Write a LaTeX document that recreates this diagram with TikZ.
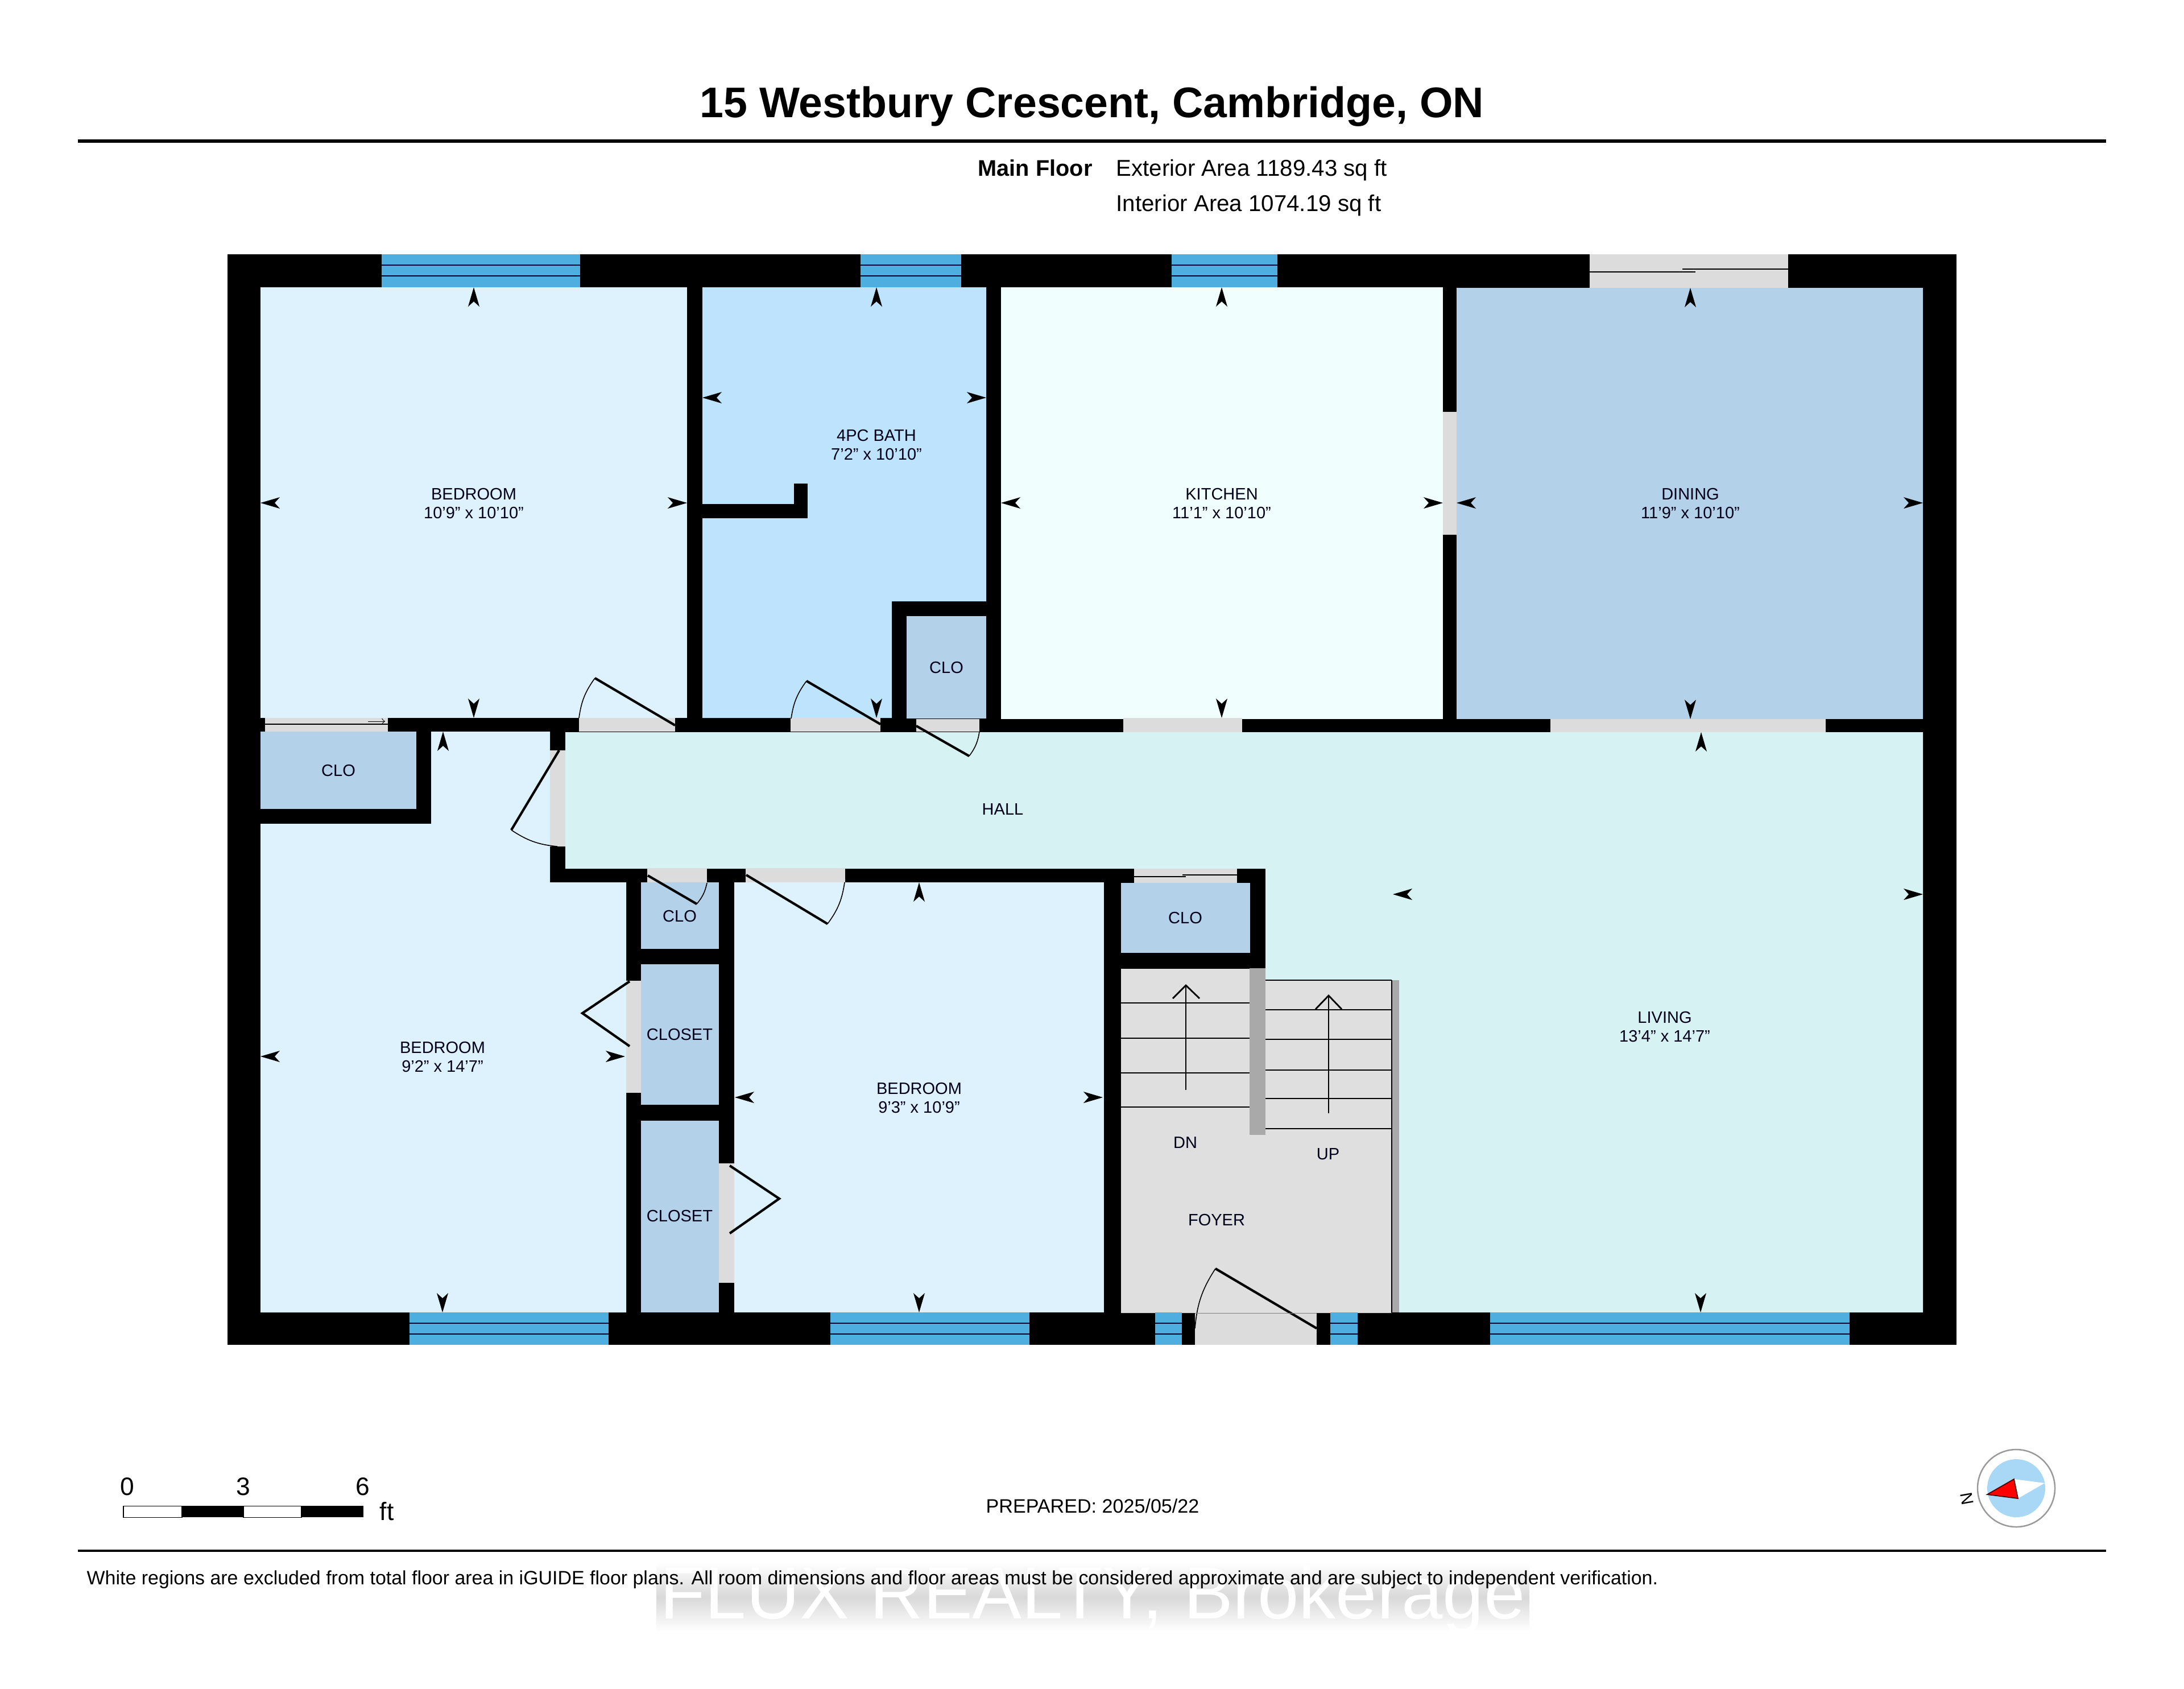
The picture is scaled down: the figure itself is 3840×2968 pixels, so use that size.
\documentclass[tikz,border=0pt]{standalone}
\usepackage{fontspec}
\setmainfont{Liberation Sans}
\definecolor{bedroomblue}{HTML}{DEF2FE}
\definecolor{bathblue}{HTML}{BEE3FC}
\definecolor{kitchenmint}{HTML}{F0FFFD}
\definecolor{closetblue}{HTML}{B3D1E8}
\definecolor{hallmint}{HTML}{D6F2F2}
\definecolor{foyergray}{HTML}{DFDFDF}
\definecolor{gapgray}{HTML}{DCDCDC}
\definecolor{railgray}{HTML}{A9A9A9}
\definecolor{glassblue}{HTML}{4FAEE0}
\definecolor{compassblue}{HTML}{A8D8F5}
\tikzset{
    roomlabel/.style={font=\fontsize{8.25}{9.2}\selectfont, align=center, inner sep=0pt, text=black!90!blue},
    wallgap/.style={fill=gapgray},
    glassline/.style={line width=0.6pt, black!80!blue},
    doorleaf/.style={line width=1.2pt},
    doorarc/.style={line width=0.45pt},
    stairline/.style={line width=0.8pt},
    sliderline/.style={line width=0.7pt},
    rulerline/.style={line width=1.5pt},
    dimtip/.pic={\fill (0,0) -- (10,34) -- (0,25) -- (-10,34) -- cycle;}
}
\begin{document}
\begin{tikzpicture}[x=0.01cm, y=-0.01cm]
    \useasboundingbox[fill=white] (0,0) rectangle (3840,2968);

    \node[font=\fontsize{21.4}{25}\bfseries\selectfont, inner sep=0pt] (title) at (1920,187) {15 Westbury Crescent, Cambridge, ON};
    \draw[rulerline] (137,248) -- (3703,248);
    \draw[rulerline, line width=1.3pt] (137,2726) -- (3703,2726);
    \node[font=\fontsize{11.3}{13}\bfseries\selectfont, anchor=base west, inner sep=0pt] (floorname) at (1719,309) {Main Floor};
    \node[font=\fontsize{11.45}{13}\selectfont, anchor=base west, inner sep=0pt] (extarea) at (1962,309) {Exterior Area 1189.43 sq ft};
    \node[font=\fontsize{11.45}{13}\selectfont, anchor=base west, inner sep=0pt] (intarea) at (1962,371) {Interior Area 1074.19 sq ft};

    \fill (400,447) rectangle (3440,2364);

    \foreach \xa/\ya/\xb/\yb in {458/505/1208/1262, 1291/1551/1941/2307}
        \fill[bedroomblue] (\xa,\ya) rectangle (\xb,\yb);
    \fill[bedroomblue] (758,1286) -- (967,1286) -- (967,1551) -- (1101,1551) -- (1101,2307) -- (458,2307) -- (458,1448) -- (758,1448) -- cycle;
    \fill[bathblue] (1235,505) -- (1734,505) -- (1734,1057) -- (1568,1057) -- (1568,1262) -- (1235,1262) -- cycle;
    \fill (1235,886) rectangle (1420,911);
    \fill (1396,850) rectangle (1420,911);
    \fill[kitchenmint] (1760,505) rectangle (2537,1264);
    \foreach \xa/\ya/\xb/\yb in {2561/506/3381/1264, 1594/1083/1734/1263, 458/1286/732/1422, 1127/1551/1264/1668, 1127/1695/1264/1942, 1127/1970/1264/2307, 1971/1552/2198/1675}
        \fill[closetblue] (\xa,\ya) rectangle (\xb,\yb);
    \fill[hallmint] (994,1287) -- (3381,1287) -- (3381,2307) -- (2460,2307) -- (2460,1723) -- (2225,1723) -- (2225,1527) -- (994,1527) -- cycle;
    \fill[foyergray] (1971,1703) -- (2225,1703) -- (2225,1723) -- (2447,1723) -- (2447,2308) -- (1971,2308) -- cycle;

    \foreach \xa/\ya/\xb/\yb in {466/1262/682/1286, 1018/1262/1187/1286, 1390/1262/1548/1286, 1611/1264/1722/1286, 1975/1262/2184/1287, 2726/1264/3210/1287, 2537/724/2561/940, 2795/447/3144/506, 967/1319/994/1488, 1138/1526/1243/1551, 1311/1526/1486/1551, 1994/1527/2175/1552, 1101/1724/1127/1921, 1264/2045/1291/2255, 2101/2308/2315/2364}
        \fill[wallgap] (\xa,\ya) rectangle (\xb,\yb);

    \foreach \xa/\xb in {671/1020, 1513/1690, 2060/2246}{
        \fill[glassblue] (\xa,447) rectangle (\xb,505);
        \draw[glassline] (\xa,466) -- (\xb,466);
        \draw[glassline] (\xa,485) -- (\xb,485);
    }
    \foreach \xa/\xb in {720/1070, 1460/1810, 2031/2078, 2339/2387, 2620/3252}{
        \fill[glassblue] (\xa,2307) rectangle (\xb,2364);
        \draw[glassline] (\xa,2326) -- (\xb,2326);
        \draw[glassline] (\xa,2345) -- (\xb,2345);
    }

    \draw[sliderline] (2795,478) -- (2981,478);
    \draw[sliderline] (2958,473) -- (3144,473);
    \draw[sliderline] (466,1273) -- (682,1273);
    \draw[sliderline, line width=0.3pt, ->] (647,1268) -- (677,1268);
    \draw[sliderline] (1994,1541) -- (2085,1541);
    \draw[sliderline] (2079,1538) -- (2175,1538);

    \foreach \hx/\hy/\tx/\ty/\ex/\ey in {1187/1275/1046/1192/1018/1262, 1548/1273/1418/1197/1391/1263, 1611/1276/1704/1329/1722/1286, 983/1319/899/1459/980/1488, 1139/1539/1225/1589/1243/1552, 1312/1538/1455/1624/1485/1551, 2315/2335/2137/2230/2101/2335}{
        \draw[doorleaf] (\hx,\hy) -- (\tx,\ty);
        \draw[doorarc] (\tx,\ty) to[bend right=14] (\ex,\ey);
    }
    \draw[doorleaf] (1107,1725) -- (1024,1781) -- (1107,1839);
    \draw[doorleaf] (1283,2049) -- (1370,2107) -- (1283,2168);
    \draw[line width=0.3pt, black!50] (2101,2308) -- (2315,2308);

    \fill[railgray] (2197,1702) rectangle (2225,1995);
    \fill[railgray] (2448,1723) rectangle (2460,2307);
    \foreach \ly in {1763,1825,1886,1946}
        \draw[stairline] (1971,\ly) -- (2197,\ly);
    \foreach \ly in {1723,1775,1827,1881,1931,1984}
        \draw[stairline] (2225,\ly) -- (2447,\ly);
    \draw[stairline] (2447,1723) -- (2447,2308);
    \draw[stairline] (2085,1916) -- (2085,1732);
    \draw[stairline] (2062,1755) -- (2085,1732) -- (2109,1755);
    \draw[stairline] (2336,1957) -- (2336,1750);
    \draw[stairline] (2313,1774) -- (2336,1750) -- (2359,1774);

    \foreach \x/\y/\r in {833/505/0, 833/1262/180, 458/884/90, 1208/884/270, 1541/505/0, 1541/1262/180, 1235/699/90, 1734/699/270, 2148/505/0, 2148/1262/180, 1760/884/90, 2537/884/270, 2972/506/0, 2972/1264/180, 2561/884/90, 3381/884/270, 2991/1287/0, 2990/2307/180, 2449/1572/90, 3381/1572/270, 779/1286/0, 778/2307/180, 458/1857/90, 1099/1857/270, 1616/1551/0, 1616/2307/180, 1292/1929/90, 1939/1929/270}
        \pic[rotate=\r] at (\x,\y) {dimtip};

    \node[roomlabel] (bedroomtop) at (833,885) {BEDROOM\\10'9" x 10'10"};
    \node[roomlabel] (bath) at (1541,782) {4PC BATH\\7'2" x 10'10"};
    \node[roomlabel] (kitchen) at (2148,885) {KITCHEN\\11'1" x 10'10"};
    \node[roomlabel] (dining) at (2972,885) {DINING\\11'9" x 10'10"};
    \node[roomlabel] (living) at (2927,1805) {LIVING\\13'4" x 14'7"};
    \node[roomlabel] (bedroomleft) at (778,1858) {BEDROOM\\9'2" x 14'7"};
    \node[roomlabel] (bedroommid) at (1616,1930) {BEDROOM\\9'3" x 10'9"};
    \node[roomlabel] (hall) at (1763,1422) {HALL};
    \node[roomlabel] (clobath) at (1664,1173) {CLO};
    \node[roomlabel] (cloleft) at (595,1354) {CLO};
    \node[roomlabel] (closmall) at (1195,1610) {CLO};
    \node[roomlabel] (clofoyer) at (2084,1613) {CLO};
    \node[roomlabel] (closetup) at (1195,1818) {CLOSET};
    \node[roomlabel] (closetdown) at (1195,2137) {CLOSET};
    \node[roomlabel] (stairdown) at (2084,2008) {DN};
    \node[roomlabel] (stairup) at (2335,2029) {UP};
    \node[roomlabel] (foyer) at (2139,2144) {FOYER};

    \draw[fill=white, line width=0.3pt] (217,2647) rectangle (320,2667);
    \fill (320,2647) rectangle (428,2667);
    \draw[fill=white, line width=0.3pt] (428,2647) rectangle (530,2667);
    \fill (530,2647) rectangle (639,2667);
    \node[font=\fontsize{12.6}{15}\selectfont, inner sep=0pt] (scalezero) at (224,2613) {0};
    \node[font=\fontsize{12.6}{15}\selectfont, inner sep=0pt] (scalethree) at (428,2613) {3};
    \node[font=\fontsize{12.6}{15}\selectfont, inner sep=0pt] (scalesix) at (638,2613) {6};
    \node[font=\fontsize{12.6}{15}\selectfont, inner sep=0pt] (scaleunit) at (680,2657) {ft};

    \node[font=\fontsize{9.7}{12}\selectfont, inner sep=0pt] (prepared) at (1921,2647) {PREPARED: 2025/05/22};

    \draw[black!40, line width=0.7pt, fill=white] (3545,2616) circle (68);
    \fill[compassblue] (3545,2616) circle (51);
    \fill[white] (3541,2600) -- (3595,2607) -- (3548,2634) -- cycle;
    \draw[black!70!red, line width=0.5pt, fill=red] (3494,2627) -- (3541,2600) -- (3548,2634) -- cycle;
    \node[font=\fontsize{8.5}{10}\selectfont, rotate=100, inner sep=0pt] (compassnorth) at (3458,2635) {N};

    \shade[top color=white, bottom color=white, middle color=black!15] (1154,2747) rectangle (2689,2868);
    \node[font=\fontsize{37}{40}\selectfont, text=white, inner sep=0pt, anchor=base] (watermark) at (1921,2845) {FLUX REALTY, Brokerage};
    \node[font=\fontsize{9.65}{11}\selectfont, anchor=base west, inner sep=0pt] (disclaimer) at (152,2785) {White regions are excluded from total floor area in iGUIDE floor plans. All room dimensions and floor areas must be considered approximate and are subject to independent verification.};
\end{tikzpicture}
\end{document}
